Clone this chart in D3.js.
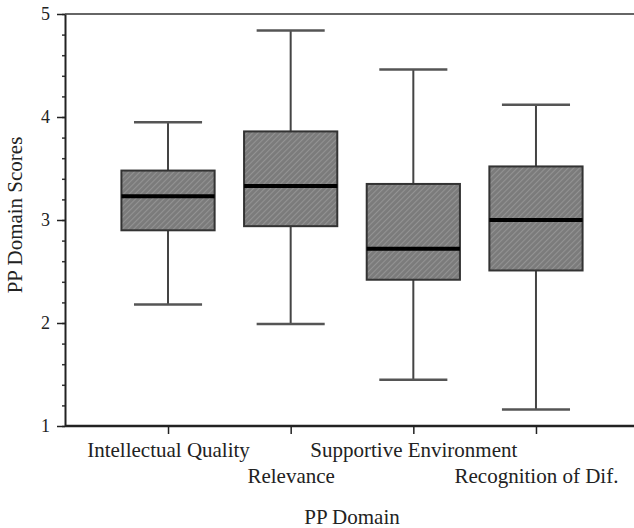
<!DOCTYPE html>
<html>
<head>
<meta charset="utf-8">
<script src="https://cdn.jsdelivr.net/npm/d3@7"></script>
<style>
  body { margin: 0; background: #fff; }
  text { font-family: "Liberation Serif", "Times New Roman", serif; fill: #222; }
</style>
</head>
<body>
<svg id="chart" width="634" height="528"></svg>
<script>
const categories = ['Intellectual Quality', 'Relevance', 'Supportive Environment', 'Recognition of Dif.'];
const whiskerLow = [2.18, 1.99, 1.45, 1.16];
const q1 = [2.90, 2.94, 2.42, 2.51];
const median = [3.23, 3.33, 2.72, 3.00];
const q3 = [3.48, 3.86, 3.35, 3.52];
const whiskerHigh = [3.95, 4.84, 4.46, 4.12];
const yTicks = [1, 2, 3, 4, 5];

const width = 634;
const marginLeft = 65;
const plotTop = 14;
const plotBottom = 426;

const boxes = categories.map((c, i) => ({
  cat: c, lo: whiskerLow[i], q1: q1[i], med: median[i], q3: q3[i], hi: whiskerHigh[i]
}));

const svg = d3.select('#chart');

// hatch fill for the boxes
const defs = svg.append('defs');
const pat = defs.append('pattern')
  .attr('id', 'hatch')
  .attr('patternUnits', 'userSpaceOnUse')
  .attr('width', 4)
  .attr('height', 4)
  .attr('patternTransform', 'rotate(45)');
pat.append('rect').attr('width', 4).attr('height', 4).attr('fill', '#7b7b7b');
pat.append('line').attr('x1', 0.5).attr('y1', 0).attr('x2', 0.5).attr('y2', 4)
  .attr('stroke', '#939393').attr('stroke-width', 1.2);

const xscale = d3.scalePoint()
  .domain(categories)
  .range([marginLeft, 639])
  .padding(0.84);

const yscale = d3.scaleLinear()
  .domain([1, 5])
  .range([plotBottom, plotTop]);

const boxW = xscale.step() * 0.76;
const capW = xscale.step() * 0.555;

// top frame line
svg.append('line')
  .attr('x1', marginLeft).attr('x2', width)
  .attr('y1', yscale(5)).attr('y2', yscale(5))
  .attr('stroke', '#333').attr('stroke-width', 1.5);

// minor ticks
const minor = d3.range(1, 5.001, 0.2).map(v => +v.toFixed(1));
svg.append('g')
  .attr('transform', `translate(${marginLeft}, 0)`)
  .call(d3.axisLeft(yscale).tickValues(minor).tickSize(3).tickFormat('').tickSizeOuter(0))
  .call(g => g.select('.domain').remove())
  .selectAll('line').attr('stroke', '#333').attr('stroke-width', 1.5);

// left axis
const leftAxis = svg.append('g')
  .attr('transform', `translate(${marginLeft}, 0)`)
  .call(d3.axisLeft(yscale).tickValues(yTicks).tickSize(8).tickSizeOuter(0).tickPadding(7).tickFormat(d3.format('d')));
leftAxis.select('.domain').attr('stroke', '#222').attr('stroke-width', 2);
leftAxis.selectAll('.tick line').attr('stroke', '#222').attr('stroke-width', 1.5);
leftAxis.selectAll('text').attr('font-size', 18).attr('fill', '#222');

// bottom axis
const bottomAxis = svg.append('g')
  .attr('transform', `translate(0, ${plotBottom})`)
  .call(d3.axisBottom(xscale).tickSize(8).tickSizeOuter(0));
bottomAxis.select('.domain').attr('d', `M${marginLeft},0H${width}`).attr('stroke', '#222').attr('stroke-width', 2.5);
bottomAxis.selectAll('.tick line').attr('stroke', '#222').attr('stroke-width', 1.5);
bottomAxis.selectAll('text')
  .attr('font-size', 21)
  .attr('fill', '#222')
  .attr('dy', 0)
  .attr('y', (d, i) => i % 2 === 0 ? 31 : 57);

// whiskers
const g = svg.append('g');
g.selectAll('.whisker')
  .data(boxes)
  .enter()
  .append('line')
  .attr('x1', d => xscale(d.cat)).attr('x2', d => xscale(d.cat))
  .attr('y1', d => yscale(d.lo)).attr('y2', d => yscale(d.hi))
  .attr('stroke', '#444').attr('stroke-width', 2);

g.selectAll('.capHi')
  .data(boxes)
  .enter()
  .append('line')
  .attr('x1', d => xscale(d.cat) - capW / 2).attr('x2', d => xscale(d.cat) + capW / 2)
  .attr('y1', d => yscale(d.hi)).attr('y2', d => yscale(d.hi))
  .attr('stroke', '#555').attr('stroke-width', 2.5);

g.selectAll('.capLo')
  .data(boxes)
  .enter()
  .append('line')
  .attr('x1', d => xscale(d.cat) - capW / 2).attr('x2', d => xscale(d.cat) + capW / 2)
  .attr('y1', d => yscale(d.lo)).attr('y2', d => yscale(d.lo))
  .attr('stroke', '#555').attr('stroke-width', 2.5);

// boxes
g.selectAll('rect')
  .data(boxes)
  .enter()
  .append('rect')
  .attr('x', d => xscale(d.cat) - boxW / 2)
  .attr('y', d => yscale(d.q3))
  .attr('width', boxW)
  .attr('height', d => yscale(d.q1) - yscale(d.q3))
  .attr('fill', 'url(#hatch)')
  .attr('stroke', '#333')
  .attr('stroke-width', 2);

// medians
g.selectAll('.median')
  .data(boxes)
  .enter()
  .append('line')
  .attr('x1', d => xscale(d.cat) - boxW / 2).attr('x2', d => xscale(d.cat) + boxW / 2)
  .attr('y1', d => yscale(d.med)).attr('y2', d => yscale(d.med))
  .attr('stroke', '#000').attr('stroke-width', 4);

// axis titles
svg.append('text')
  .text('PP Domain')
  .attr('x', (marginLeft + 639) / 2)
  .attr('y', 524)
  .attr('text-anchor', 'middle')
  .attr('font-size', 21);

svg.append('text')
  .text('PP Domain Scores')
  .attr('transform', 'translate(22, 215) rotate(-90)')
  .attr('text-anchor', 'middle')
  .attr('font-size', 21);
</script>
</body>
</html>
